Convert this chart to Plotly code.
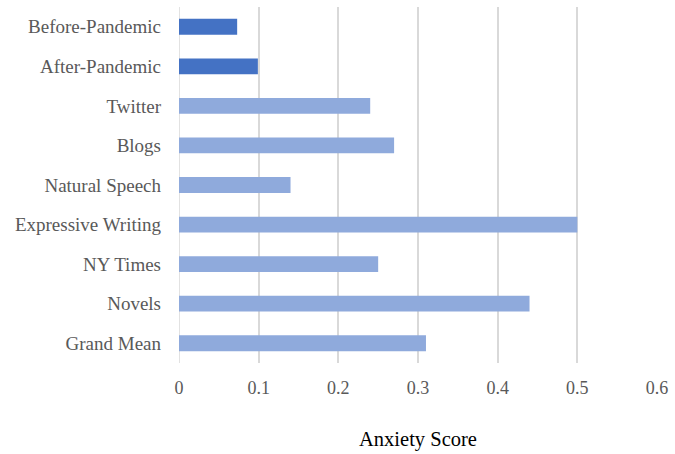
import plotly.graph_objects as go

# Anxiety scores by corpus (top to bottom as displayed)
categories = ["Before-Pandemic", "After-Pandemic", "Twitter", "Blogs",
              "Natural Speech", "Expressive Writing", "NY Times", "Novels",
              "Grand Mean"]
scores = [0.073, 0.099, 0.24, 0.27, 0.14, 0.50, 0.25, 0.44, 0.31]
bar_colors = ["#4472C4", "#4472C4"] + ["#8FAADC"] * 7
x_ticks = [0, 0.1, 0.2, 0.3, 0.4, 0.5, 0.6]

fig = go.Figure(
    go.Bar(
        x=scores,
        y=categories,
        orientation="h",
        marker=dict(color=bar_colors, line=dict(width=0)),
        width=0.4,
    )
)

font_family = "Liberation Serif"

fig.update_layout(
    width=675,
    height=454,
    margin=dict(l=179, r=13, t=7, b=91),
    plot_bgcolor="white",
    paper_bgcolor="white",
    showlegend=False,
    font=dict(family=font_family, size=18, color="#595959"),
    xaxis=dict(
        range=[0, 0.6],
        tickvals=x_ticks,
        ticktext=[f"{v:g}" for v in x_ticks],
        showgrid=True,
        gridcolor="#D9D9D9",
        gridwidth=1.5,
        zeroline=False,
        showline=False,
        ticks="",
        ticklabelstandoff=12,
        tickfont=dict(family=font_family, size=18, color="#595959"),
        title=dict(text="Anxiety Score", standoff=34,
                   font=dict(family=font_family, size=20.5, color="#000000")),
    ),
    yaxis=dict(
        categoryorder="array",
        categoryarray=categories[::-1],
        range=[-0.5, len(categories) - 0.5],
        showgrid=False,
        zeroline=False,
        showline=False,
        ticks="",
        ticklabelstandoff=17,
        tickfont=dict(family=font_family, size=19, color="#595959"),
    ),
)

fig.add_shape(type="line", xref="x", yref="paper", x0=0, x1=0, y0=0, y1=1,
              line=dict(color="#D9D9D9", width=1.5), layer="below")

fig.write_html("out.html")
